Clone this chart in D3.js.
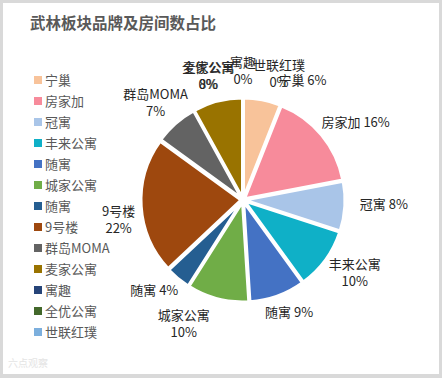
<!DOCTYPE html>
<html>
<head>
<meta charset="utf-8">
<script src="https://cdn.jsdelivr.net/npm/d3@7"></script>
<style>
  body { margin: 0; background: #fff; }
  svg { display: block; font-family: "Noto Sans CJK SC", "Noto Sans", sans-serif; }
</style>
</head>
<body>
<div id="wrapper"></div>
<script>
// data
const names = ["宁巢", "房家加", "冠寓", "丰来公寓", "随寓", "城家公寓", "随寓", "9号楼", "群岛MOMA", "麦家公寓", "寓趣", "全优公寓", "世联红璞"]
const shares = [6, 16, 8, 10, 9, 10, 4, 22, 7, 8, 0, 0, 0]
const colors = ["#F8C39A", "#F78B9B", "#A9C5E8", "#0FB0C7", "#4472C4", "#70AD47", "#255E91", "#9E480E", "#636363", "#997300", "#264478", "#43682B", "#7CAFDD"]

// label layout: two-line labels and hand nudges where the original spreads crowded labels
const wrapLabel = [false, false, false, true, false, true, false, true, true, true, true, true, true]
const labelNudge = [[34, 0], [0, 0], [5, -2], [0, -2], [0, 0], [-25, 0], [-2, -1], [4, 13], [8, 1], [0, 2], [0, 1], [-35, 6], [36, 4]]

function drawPie() {
  const dimensions = {
    width: 442,
    height: 378,
    cx: 243,
    cy: 200,
    radius: 100
  }

  const wrapper = d3.select("#wrapper")
    .append("svg")
      .attr("width", dimensions.width)
      .attr("height", dimensions.height)

  // grey frame and white plot card
  wrapper.append("rect")
    .attr("width", dimensions.width)
    .attr("height", dimensions.height)
    .attr("fill", "#d9d9d9")
  wrapper.append("rect")
    .attr("x", 3)
    .attr("y", 3)
    .attr("width", 436)
    .attr("height", 371)
    .attr("fill", "#ffffff")

  // title
  wrapper.append("text")
    .attr("x", 30)
    .attr("y", 29)
    .text("武林板块品牌及房间数占比")
    .attr("fill", "#595959")
    .style("font-size", "15.5px")
    .style("font-weight", "bold")

  // legend
  const legend = wrapper.append("g")
    .attr("transform", "translate(34, 80)")
  const legendItems = legend.selectAll("g")
    .data(names)
    .join("g")
      .attr("transform", (d, i) => `translate(0, ${i * 21})`)
  legendItems.append("rect")
    .attr("x", 0)
    .attr("y", -4)
    .attr("width", 8)
    .attr("height", 8)
    .attr("fill", (d, i) => colors[i])
  legendItems.append("text")
    .attr("x", 11)
    .attr("y", 5)
    .text(d => d)
    .attr("fill", "#595959")
    .style("font-size", "13px")

  // pie
  const total = d3.sum(shares)
  const pct = d3.format(".0%")
  const pieGenerator = d3.pie()
    .sort(null)
    .value(d => d)
  const arcs = pieGenerator(shares)
  const arcGenerator = d3.arc()
    .innerRadius(0)
    .outerRadius(dimensions.radius)

  const bounds = wrapper.append("g")
    .attr("transform", `translate(${dimensions.cx}, ${dimensions.cy})`)

  const explode = 2
  bounds.append("g")
    .selectAll("path")
    .data(arcs)
    .join("path")
      .attr("d", arcGenerator)
      .attr("fill", (d, i) => colors[i])
      .attr("stroke", "#ffffff")
      .attr("stroke-width", 3)
      .attr("stroke-linejoin", "round")
      .attr("transform", d => {
        const a = (d.startAngle + d.endAngle) / 2
        return `translate(${Math.sin(a) * explode}, ${-Math.cos(a) * explode})`
      })

  // data labels (outside end)
  const gap = 12
  const lineHeight = 17
  const labels = bounds.append("g")
    .selectAll("text")
    .data(arcs)
    .join("text")
      .attr("fill", "#262626")
      .style("font-size", "13px")
      .attr("text-anchor", "middle")

  labels.each(function (d, i) {
    const text = d3.select(this)
    const lines = wrapLabel[i]
      ? [names[i], pct(d.value / total)]
      : [names[i] + " " + pct(d.value / total)]
    lines.forEach((line, j) => {
      text.append("tspan")
        .attr("x", 0)
        .attr("dy", j === 0 ? 0 : lineHeight)
        .text(line)
    })
    const box = this.getBBox()
    const a = (d.startAngle + d.endAngle) / 2
    const sx = Math.sin(a)
    const sy = -Math.cos(a)
    const r = dimensions.radius + gap
    const cx = r * sx + (box.width / 2) * sx + labelNudge[i][0]
    const cy = r * sy + (lines.length * lineHeight / 2) * sy + labelNudge[i][1]
    const top = cy - lines.length * lineHeight / 2
    text.attr("transform", `translate(${cx}, ${top + 12})`)
  })

  // faint watermark
  wrapper.append("text")
    .attr("x", 8)
    .attr("y", 367)
    .text("六点观察")
    .attr("fill", "#e4e4e4")
    .style("font-size", "10px")
}

drawPie()
</script>
</body>
</html>
